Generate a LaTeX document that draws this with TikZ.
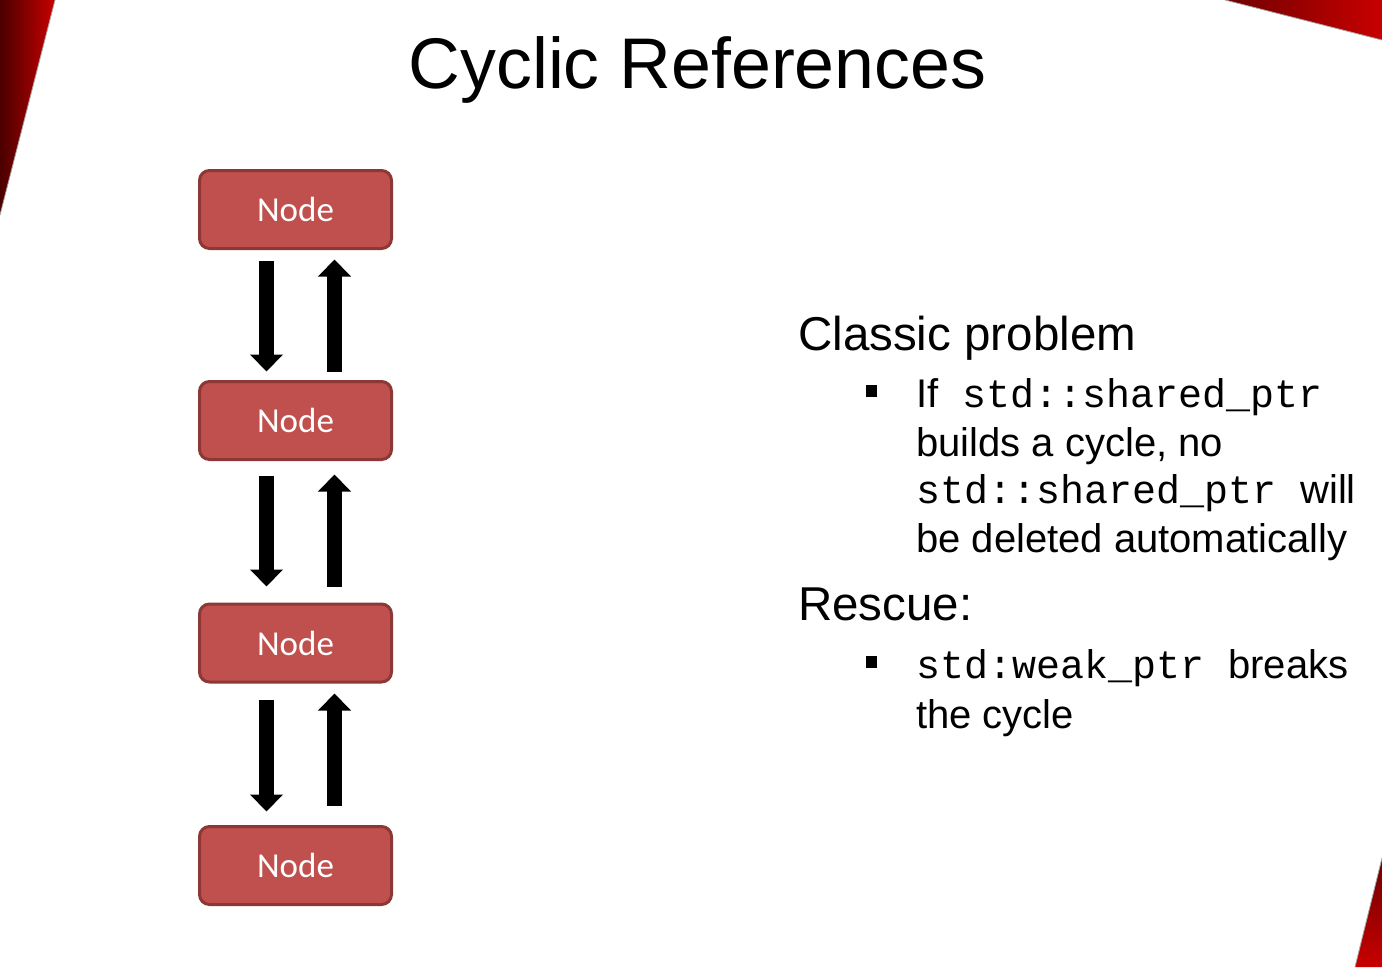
\documentclass[tikz,border=0pt]{standalone}
\usepackage{fontspec}
\setmainfont{Liberation Sans}
\setmonofont{Liberation Mono}
\newfontfamily\calib{Carlito}
\usetikzlibrary{arrows.meta}
\definecolor{nodefill}{RGB}{192,80,77}
\definecolor{nodeedge}{RGB}{140,56,54}
\definecolor{darkred}{RGB}{75,0,0}
\definecolor{midred}{RGB}{110,0,0}
\definecolor{brightred}{RGB}{200,0,0}
\begin{document}
\begin{tikzpicture}[x=1pt,y=-1pt,
  box/.style={rectangle, rounded corners=10pt, minimum width=192pt, minimum height=78pt,
    fill=nodefill, draw=nodeedge, line width=3pt, text=white, font=\calib\fontsize{35}{40}\selectfont},
  ptr/.style={line width=15pt, -{Triangle[width=32pt,length=17pt]}},
  txt/.style={anchor=base west, inner sep=0pt, font=\fontsize{40}{48}\selectfont},
  head/.style={anchor=base west, inner sep=0pt, font=\fontsize{47.5}{56}\selectfont},
  edgeline/.style={draw=gray!70, line width=0.8pt}]
\useasboundingbox (0,0) rectangle (1382,967);
% corner decorations
\shade[left color=darkred, right color=brightred] (0,0) -- (55,0) -- (0,215) -- cycle;
\draw[edgeline] (55,0) -- (0,215);
\shade[left color=midred, right color=brightred] (1225,0) -- (1382,0) -- (1382,40) -- cycle;
\draw[edgeline] (1225,0) -- (1382,40);
\shade[top color=midred, bottom color=brightred] (1382,858) -- (1382,967) -- (1355,967) -- cycle;
\draw[edgeline] (1382,858) -- (1355,967);
% title
\node[anchor=base, inner sep=0pt, font=\fontsize{71.7}{80}\selectfont] (title) at (697.5,88) {Cyclic References};
% nodes
\node[box] (n1) at (295.5,209.5) {Node};
\node[box] (n2) at (295.5,420.5) {Node};
\node[box] (n3) at (295.5,643) {Node};
\node[box] (n4) at (295.5,865.5) {Node};
% arrows
\draw[ptr, shorten <=10.5pt, shorten >=8.5pt] ([xshift=-29pt]n1.south) -- ([xshift=-29pt]n2.north);
\draw[ptr, shorten <=8.5pt, shorten >=9.5pt] ([xshift=39pt]n2.north) -- ([xshift=39pt]n1.south);
\draw[ptr, shorten <=14.5pt, shorten >=16pt] ([xshift=-29pt]n2.south) -- ([xshift=-29pt]n3.north);
\draw[ptr, shorten <=16pt, shorten >=13.5pt] ([xshift=39pt]n3.north) -- ([xshift=39pt]n2.south);
\draw[ptr, shorten <=16pt, shorten >=13.5pt] ([xshift=-29pt]n3.south) -- ([xshift=-29pt]n4.north);
\draw[ptr, shorten <=19.5pt, shorten >=10pt] ([xshift=39pt]n4.north) -- ([xshift=39pt]n3.south);
% text
\node[head] (h1) at (798,350) {Classic problem};
\fill (866,385) rectangle (877,397);
\node[txt] (l1) at (916,407) {If\texttt{ std::shared\_ptr}};
\node[txt] (l2) at (916,456) {builds a cycle, no};
\node[txt] (l3) at (916,503) {\texttt{std::shared\_ptr }will};
\node[txt] (l4) at (916,552) {be deleted automatically};
\node[head] (h2) at (798,620) {Rescue:};
\fill (866,656) rectangle (877,668);
\node[txt] (l5) at (916,678) {\texttt{std:weak\_ptr }breaks};
\node[txt] (l6) at (916,728) {the cycle};
\end{tikzpicture}
\end{document}
